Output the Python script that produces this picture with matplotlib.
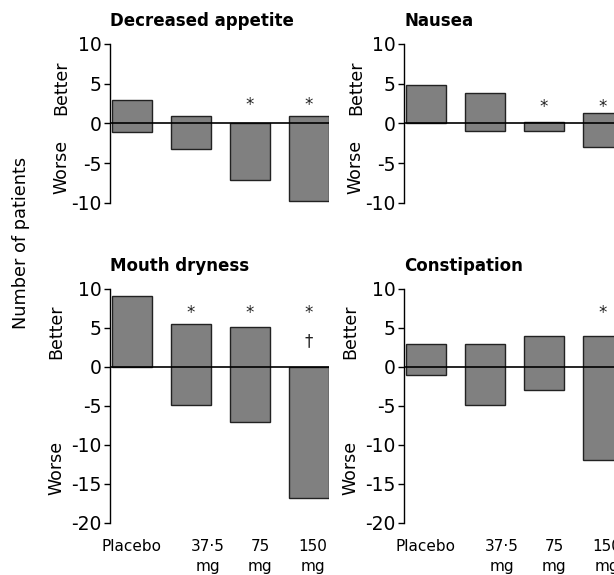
import matplotlib.pyplot as plt
from matplotlib.transforms import ScaledTranslation

plt.rcParams['font.family'] = 'DejaVu Sans'
plt.rcParams['axes.unicode_minus'] = False

doses = ['Placebo', '37·5\nmg', '75\nmg', '150\nmg']

# each bar runs from the "worse" count (negative) up to the "better" count
appetite_better = [3, 1, 0, 0.9]
appetite_worse = [-1.1, -3.2, -7.1, -9.8]
nausea_better = [4.9, 3.8, 0.2, 1.3]
nausea_worse = [0.1, -0.9, -1.0, -2.9]
dryness_better = [9.1, 5.5, 5.1, 0]
dryness_worse = [0, -4.9, -7.1, -16.8]
constip_better = [3, 3, 4, 4]
constip_worse = [-1, -4.9, -3, -12]

# significance marks: * vs placebo, dagger vs lower doses
appetite_star = [False, False, True, True]
nausea_star = [False, False, True, True]
dryness_star = [False, True, True, True]
constip_star = [False, False, False, True]
dryness_dagger = [False, False, False, True]
no_dagger = [False] * 4

panels = [
    ('Decreased appetite', appetite_better, appetite_worse, appetite_star, no_dagger, (-10, 10), [10, 5, 0, -5, -10], 2.3, -5.5),
    ('Nausea', nausea_better, nausea_worse, nausea_star, no_dagger, (-10, 10), [10, 5, 0, -5, -10], 2.1, -5.5),
    ('Mouth dryness', dryness_better, dryness_worse, dryness_star, dryness_dagger, (-20, 10), [10, 5, 0, -5, -10, -15, -20], 6.9, -13),
    ('Constipation', constip_better, constip_worse, constip_star, no_dagger, (-20, 10), [10, 5, 0, -5, -10, -15, -20], 6.9, -13),
]

fig = plt.figure(figsize=(6.14, 5.75), dpi=100)
boxes = [
    [0.179, 0.647, 0.357, 0.2765],
    [0.658, 0.647, 0.357, 0.2765],
    [0.179, 0.091, 0.357, 0.4064],
    [0.658, 0.091, 0.357, 0.4064],
]

x = list(range(len(doses)))
w = 0.67
label_shift = [0, 17, 10, 4]

for i, (title, better, worse, stars, daggers, ylim, yticks, mark_y, worse_y) in enumerate(panels):
    ax = fig.add_axes(boxes[i])
    heights = [b - wv for b, wv in zip(better, worse)]
    ax.bar(x, heights, bottom=worse, width=w, color='#808080',
           edgecolor='#222222', linewidth=1.0, zorder=2)
    ax.axhline(0, color='black', linewidth=1.2, zorder=3)
    for xi, s, d in zip(x, stars, daggers):
        if s:
            ax.text(xi, mark_y, '*', ha='center', va='center', fontsize=12,
                    color='#222222')
        if d:
            ax.text(xi, mark_y - 3.6, '†', ha='center', va='center',
                    fontsize=12, color='#222222')
    ax.set_xlim(-0.37, 3.34)
    ax.set_ylim(*ylim)
    ax.set_yticks(yticks)
    ax.tick_params(axis='y', labelsize=13.5, length=4, width=1, pad=2)
    for s in ['top', 'right', 'bottom']:
        ax.spines[s].set_visible(False)
    ax.spines['left'].set_linewidth(1)
    if i >= 2:
        ax.set_xticks(x)
        ax.set_xticklabels(doses, fontsize=11, va='top', linespacing=1.35)
        ax.tick_params(axis='x', length=0, pad=12)
        for lbl, dx in zip(ax.get_xticklabels(), label_shift):
            lbl.set_transform(lbl.get_transform() + ScaledTranslation(dx / 100, 0, fig.dpi_scale_trans))
        side_x = -0.245
    else:
        ax.set_xticks([])
        side_x = -0.22
    ax.set_title(title, loc='left', fontsize=12, fontweight='bold', pad=13)
    ax.text(side_x, 4.5, 'Better', transform=ax.get_yaxis_transform(),
            rotation=90, ha='center', va='center', fontsize=12.5)
    ax.text(side_x, worse_y, 'Worse', transform=ax.get_yaxis_transform(),
            rotation=90, ha='center', va='center', fontsize=12.5)

fig.text(0.034, 0.578, 'Number of patients', rotation=90, ha='center',
         va='center', fontsize=12.8)

fig.savefig('out.png', dpi=100)
